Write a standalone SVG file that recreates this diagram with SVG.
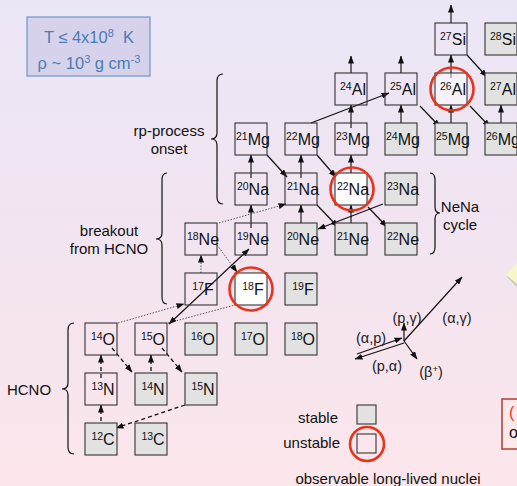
<svg xmlns="http://www.w3.org/2000/svg" width="517" height="486" viewBox="0 0 517 486">
<defs>
<linearGradient id="bg" x1="0" y1="0" x2="0" y2="1">
<stop offset="0" stop-color="#ebe6f6"/>
<stop offset="0.5" stop-color="#f2e4f0"/>
<stop offset="1" stop-color="#fce6eb"/>
</linearGradient>
<marker id="ah" markerUnits="userSpaceOnUse" markerWidth="8" markerHeight="6" refX="7.5" refY="3" orient="auto-start-reverse">
<path d="M0,0 L8,3 L0,6 z" fill="#111"/>
</marker>
</defs>
<style>
text{font-family:"Liberation Sans",Arial,sans-serif;fill:#111}
.box{stroke:#333;stroke-width:1.1;fill:none}
.st{fill:#e2e2e2}
.wh{fill:#ffffff}
.lw{fill:#ffffff;fill-opacity:0.5}
.nuc{font-size:16px;text-anchor:middle}
.sup{font-size:10.5px}
.ring{fill:none;stroke:#e8341c;stroke-width:2.6}
.a{stroke:#111;stroke-width:1.2;fill:none;marker-end:url(#ah)}
.v{stroke:#444;stroke-width:1.5}
.dash{stroke-dasharray:4,3;stroke-width:1.3}
.dot{stroke-dasharray:1.5,1.5;stroke:#555;stroke-width:1}
.lbl{font-size:15px;text-anchor:middle}
.rx{font-size:14.5px;text-anchor:middle;fill:#222}
.brace{fill:none;stroke:#111;stroke-width:1.2}
.cond{font-size:16.5px;text-anchor:middle;fill:#4a7db3}
</style>
<rect width="517" height="486" fill="url(#bg)"/>

<g id="conditions">
<rect x="27" y="17" width="123" height="59" fill="#d6d2ec" stroke="#6e96c8" stroke-width="1.2"/>
<text class="cond" x="89" y="43">T ≤ 4x10<tspan font-size="11" dy="-6">8</tspan><tspan dy="6">&#160; K</tspan></text>
<text class="cond" x="89" y="69">ρ ~ 10<tspan font-size="11" dy="-6">3</tspan><tspan dy="6"> g cm</tspan><tspan font-size="11" dy="-6">-3</tspan></text>
</g>

<g id="braces">
<path class="brace" d="M223,74 Q217,74 217,81 L217,133 Q217,139 211,139 Q217,139 217,145 L217,197 Q217,204 223,204"/>
<path class="brace" d="M167,173 Q162,173 162,180 L162,233 Q162,239 156,239 Q162,239 162,245 L162,297 Q162,304 167,304"/>
<path class="brace" d="M74,323 Q68,323 68,330 L68,383 Q68,389 62,389 Q68,389 68,395 L68,447 Q68,454 74,454"/>
<path class="brace" d="M430,173 Q435,173 435,180 L435,207 Q435,213 440,213 Q435,213 435,219 L435,247 Q435,254 430,254"/>
</g>
<g id="labels">
<text class="lbl" x="169" y="136">rp-process</text>
<text class="lbl" x="169" y="154">onset</text>
<text class="lbl" x="109" y="236">breakout</text>
<text class="lbl" x="109" y="254">from HCNO</text>
<text class="lbl" x="29" y="395">HCNO</text>
<text class="lbl" x="460" y="212">NeNa</text>
<text class="lbl" x="460" y="230">cycle</text>
</g>

<g id="connectors">
<line class="a dash" x1="101" y1="428" x2="101" y2="405"/>
<line class="a dash" x1="101" y1="378" x2="101" y2="355"/>
<line class="a dash" x1="151" y1="378" x2="151" y2="355"/>
<line class="a dash" x1="112" y1="348" x2="132" y2="372"/>
<line class="a dash" x1="162" y1="348" x2="182" y2="372"/>
<line class="a dash" x1="185" y1="405" x2="116" y2="428"/>
<line class="a dot" x1="118" y1="323" x2="184" y2="304"/>
<line class="dot" x1="168" y1="323" x2="235" y2="305" fill="none"/>
<line class="a" x1="169" y1="324" x2="249" y2="249" style="marker-start:url(#ah)"/>
<line class="a dot" x1="201" y1="273" x2="201" y2="255"/>
<line class="a dot" x1="217" y1="245" x2="237" y2="272"/>
<line class="a dot" x1="219" y1="223" x2="286" y2="204"/>
<line class="a v" x1="251" y1="228" x2="251" y2="205"/>
<line class="a v" x1="251" y1="178" x2="251" y2="155"/>
<line class="a v" x1="301" y1="228" x2="301" y2="205"/>
<line class="a v" x1="301" y1="178" x2="301" y2="155"/>
<line class="a v" x1="351" y1="228" x2="351" y2="205"/>
<line class="a v" x1="351" y1="178" x2="351" y2="155"/>
<line class="a v" x1="351" y1="128" x2="351" y2="105"/>
<line class="a v" x1="351" y1="73" x2="351" y2="56"/>
<line class="a v" x1="401" y1="128" x2="401" y2="105"/>
<line class="a v" x1="401" y1="73" x2="401" y2="56"/>
<line class="a v" x1="451" y1="128" x2="451" y2="105"/>
<line class="a v" x1="451" y1="78" x2="451" y2="55"/>
<line class="a v" x1="451" y1="23" x2="451" y2="5"/>
<line class="a v" x1="501" y1="128" x2="501" y2="105"/>
<line class="a" x1="267" y1="155" x2="287" y2="177"/>
<line class="a" x1="317" y1="155" x2="336" y2="177"/>
<line class="a" x1="317" y1="205" x2="338" y2="227"/>
<line class="a" x1="368" y1="207" x2="387" y2="227"/>
<line class="a" x1="420" y1="106" x2="440" y2="127"/>
<line class="a" x1="470" y1="106" x2="490" y2="127"/>
<line class="a" x1="467" y1="55" x2="487" y2="77"/>
<line class="a" x1="311" y1="123" x2="389" y2="93"/>
<line class="a" x1="383" y1="204" x2="318" y2="229"/>
<line class="a" x1="404" y1="341" x2="404" y2="323"/>
<line class="a" x1="404" y1="341" x2="462" y2="277"/>
<line class="a" x1="357" y1="354" x2="402" y2="338"/>
<line class="a" x1="404" y1="343" x2="355" y2="359"/>
<line class="a" x1="404" y1="341" x2="417" y2="359"/>
</g>

<g id="reaction-labels">
<text class="rx" x="407" y="323">(p,γ)</text>
<text class="rx" x="457" y="323">(α,γ)</text>
<text class="rx" x="371" y="343">(α,p)</text>
<text class="rx" x="387" y="371">(p,α)</text>
<text class="rx" x="431" y="377">(β<tspan font-size="9.5" dy="-5">+</tspan><tspan dy="5">)</tspan></text>
</g>

<g id="n-12C"><rect class="box st" x="85" y="423" width="32" height="32"/><text class="nuc" x="103" y="445"><tspan class="sup" dy="-5">12</tspan><tspan dy="5">C</tspan></text></g>
<g id="n-13C"><rect class="box st" x="135" y="423" width="32" height="32"/><text class="nuc" x="153" y="445"><tspan class="sup" dy="-5">13</tspan><tspan dy="5">C</tspan></text></g>
<g id="n-13N"><rect class="box" x="85" y="373" width="32" height="32"/><text class="nuc" x="103" y="395"><tspan class="sup" dy="-5">13</tspan><tspan dy="5">N</tspan></text></g>
<g id="n-14N"><rect class="box st" x="135" y="373" width="32" height="32"/><text class="nuc" x="153" y="395"><tspan class="sup" dy="-5">14</tspan><tspan dy="5">N</tspan></text></g>
<g id="n-15N"><rect class="box st" x="185" y="373" width="32" height="32"/><text class="nuc" x="203" y="395"><tspan class="sup" dy="-5">15</tspan><tspan dy="5">N</tspan></text></g>
<g id="n-14O"><rect class="box" x="85" y="323" width="32" height="32"/><text class="nuc" x="103" y="345"><tspan class="sup" dy="-5">14</tspan><tspan dy="5">O</tspan></text></g>
<g id="n-15O"><rect class="box" x="135" y="323" width="32" height="32"/><text class="nuc" x="153" y="345"><tspan class="sup" dy="-5">15</tspan><tspan dy="5">O</tspan></text></g>
<g id="n-16O"><rect class="box st" x="185" y="323" width="32" height="32"/><text class="nuc" x="203" y="345"><tspan class="sup" dy="-5">16</tspan><tspan dy="5">O</tspan></text></g>
<g id="n-17O"><rect class="box st" x="235" y="323" width="32" height="32"/><text class="nuc" x="253" y="345"><tspan class="sup" dy="-5">17</tspan><tspan dy="5">O</tspan></text></g>
<g id="n-18O"><rect class="box st" x="285" y="323" width="32" height="32"/><text class="nuc" x="303" y="345"><tspan class="sup" dy="-5">18</tspan><tspan dy="5">O</tspan></text></g>
<g id="n-17F"><rect class="box" x="185" y="273" width="32" height="32"/><text class="nuc" x="203" y="295"><tspan class="sup" dy="-5">17</tspan><tspan dy="5">F</tspan></text></g>
<g id="n-18F"><rect class="box wh" x="235" y="273" width="32" height="32"/><text class="nuc" x="253" y="295"><tspan class="sup" dy="-5">18</tspan><tspan dy="5">F</tspan></text><circle class="ring" cx="251" cy="289" r="21.5"/></g>
<g id="n-19F"><rect class="box st" x="285" y="273" width="32" height="32"/><text class="nuc" x="303" y="295"><tspan class="sup" dy="-5">19</tspan><tspan dy="5">F</tspan></text></g>
<g id="n-18Ne"><rect class="box" x="185" y="223" width="32" height="32"/><text class="nuc" x="203" y="245"><tspan class="sup" dy="-5">18</tspan><tspan dy="5">Ne</tspan></text></g>
<g id="n-19Ne"><rect class="box" x="235" y="223" width="32" height="32"/><text class="nuc" x="253" y="245"><tspan class="sup" dy="-5">19</tspan><tspan dy="5">Ne</tspan></text></g>
<g id="n-20Ne"><rect class="box st" x="285" y="223" width="32" height="32"/><text class="nuc" x="303" y="245"><tspan class="sup" dy="-5">20</tspan><tspan dy="5">Ne</tspan></text></g>
<g id="n-21Ne"><rect class="box st" x="335" y="223" width="32" height="32"/><text class="nuc" x="353" y="245"><tspan class="sup" dy="-5">21</tspan><tspan dy="5">Ne</tspan></text></g>
<g id="n-22Ne"><rect class="box st" x="385" y="223" width="32" height="32"/><text class="nuc" x="403" y="245"><tspan class="sup" dy="-5">22</tspan><tspan dy="5">Ne</tspan></text></g>
<g id="n-20Na"><rect class="box" x="235" y="173" width="32" height="32"/><text class="nuc" x="253" y="195"><tspan class="sup" dy="-5">20</tspan><tspan dy="5">Na</tspan></text></g>
<g id="n-21Na"><rect class="box" x="285" y="173" width="32" height="32"/><text class="nuc" x="303" y="195"><tspan class="sup" dy="-5">21</tspan><tspan dy="5">Na</tspan></text></g>
<g id="n-22Na"><rect class="box wh" x="335" y="173" width="32" height="32"/><text class="nuc" x="353" y="195"><tspan class="sup" dy="-5">22</tspan><tspan dy="5">Na</tspan></text><circle class="ring" cx="352" cy="189" r="21.5"/></g>
<g id="n-23Na"><rect class="box st" x="385" y="173" width="32" height="32"/><text class="nuc" x="403" y="195"><tspan class="sup" dy="-5">23</tspan><tspan dy="5">Na</tspan></text></g>
<g id="n-21Mg"><rect class="box" x="235" y="123" width="32" height="32"/><text class="nuc" x="253" y="145"><tspan class="sup" dy="-5">21</tspan><tspan dy="5">Mg</tspan></text></g>
<g id="n-22Mg"><rect class="box" x="285" y="123" width="32" height="32"/><text class="nuc" x="303" y="145"><tspan class="sup" dy="-5">22</tspan><tspan dy="5">Mg</tspan></text></g>
<g id="n-23Mg"><rect class="box" x="335" y="123" width="32" height="32"/><text class="nuc" x="353" y="145"><tspan class="sup" dy="-5">23</tspan><tspan dy="5">Mg</tspan></text></g>
<g id="n-24Mg"><rect class="box st" x="385" y="123" width="32" height="32"/><text class="nuc" x="403" y="145"><tspan class="sup" dy="-5">24</tspan><tspan dy="5">Mg</tspan></text></g>
<g id="n-25Mg"><rect class="box st" x="435" y="123" width="32" height="32"/><text class="nuc" x="453" y="145"><tspan class="sup" dy="-5">25</tspan><tspan dy="5">Mg</tspan></text></g>
<g id="n-26Mg"><rect class="box st" x="485" y="123" width="32" height="32"/><text class="nuc" x="503" y="145"><tspan class="sup" dy="-5">26</tspan><tspan dy="5">Mg</tspan></text></g>
<g id="n-24Al"><rect class="box" x="335" y="73" width="32" height="32"/><text class="nuc" x="353" y="95"><tspan class="sup" dy="-5">24</tspan><tspan dy="5">Al</tspan></text></g>
<g id="n-25Al"><rect class="box" x="385" y="73" width="32" height="32"/><text class="nuc" x="403" y="95"><tspan class="sup" dy="-5">25</tspan><tspan dy="5">Al</tspan></text></g>
<g id="n-26Al"><rect class="box lw" x="435" y="73" width="32" height="32"/><text class="nuc" x="453" y="95"><tspan class="sup" dy="-5">26</tspan><tspan dy="5">Al</tspan></text><circle class="ring" cx="452" cy="89" r="21.5"/></g>
<g id="n-27Al"><rect class="box st" x="485" y="73" width="32" height="32"/><text class="nuc" x="503" y="95"><tspan class="sup" dy="-5">27</tspan><tspan dy="5">Al</tspan></text></g>
<g id="n-27Si"><rect class="box" x="435" y="23" width="32" height="32"/><text class="nuc" x="453" y="45"><tspan class="sup" dy="-5">27</tspan><tspan dy="5">Si</tspan></text></g>
<g id="n-28Si"><rect class="box st" x="485" y="23" width="32" height="32"/><text class="nuc" x="503" y="45"><tspan class="sup" dy="-5">28</tspan><tspan dy="5">Si</tspan></text></g>

<g id="legend">
<text x="338" y="423" style="font-size:15px;text-anchor:end">stable</text>
<rect class="box st" x="357" y="405" width="19" height="19"/>
<text x="340" y="448" style="font-size:15px;text-anchor:end">unstable</text>
<rect class="box" x="357" y="434" width="19" height="19"/>
<circle class="ring" cx="367" cy="444" r="17"/>
<text x="388" y="484" style="font-size:15px;text-anchor:middle">observable long-lived nuclei</text>
</g>

<g id="edge-callout">
<polygon points="517,264 507,277 517,287" fill="#c8c8c0"/>
<polygon points="517,262 506,275 517,284" fill="#f6f6c6"/>
</g>
<g id="edge-box">
<rect x="502" y="399" width="30" height="50" fill="#fde8ea" stroke="#a8342a" stroke-width="1.4"/>
<text x="509" y="418" style="font-size:16px;fill:#e8321e">(</text>
<text x="509" y="438" style="font-size:16px">o</text>
</g>
</svg>
